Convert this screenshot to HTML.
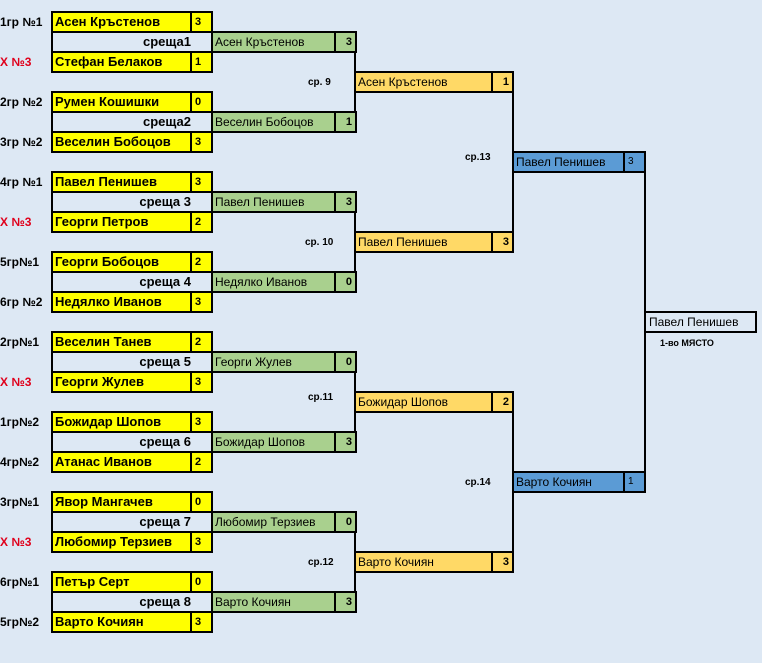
<!DOCTYPE html>
<html><head><meta charset="utf-8"><style>
body{margin:0;width:762px;height:663px;background:#dde8f4;position:relative;overflow:hidden;font-family:"Liberation Sans",Arial,sans-serif;}
.b{position:absolute;box-sizing:border-box;border:2px solid #000;height:22px;}
.b .n{position:absolute;left:2px;top:0;line-height:18px;white-space:nowrap;}
.b .s{position:absolute;right:0;top:0;bottom:0;box-sizing:border-box;border-left:2px solid #000;width:21px;line-height:18px;font-size:11px;}
.y{background:#ffff00;width:162px;font-weight:bold;font-size:13px;}
.y .s{font-weight:bold;padding-left:3px;}
.m{width:162px;font-weight:bold;font-size:13px;}
.m .n{left:auto;right:20px;}
.g{background:#a9d08e;width:146px;font-size:12px;}
.g .s{font-weight:bold;text-align:right;padding-right:3px;}
.o{background:#ffd966;width:160px;font-size:12px;}
.o .s{font-weight:bold;text-align:right;padding-right:3px;}
.bl{background:#5b9bd5;width:134px;font-size:12px;}
.bl .s{padding-left:3px;font-size:10px;}
.v{position:absolute;width:2px;background:#000;}
.l{position:absolute;font-size:12px;font-weight:bold;left:0;white-space:nowrap;}
.r{color:#e0001b;}
.c{position:absolute;font-size:10px;font-weight:bold;}
</style></head><body>

<div class="l" style="top:15px">1гр №1</div>
<div class="l r" style="top:55px">Х №3</div>
<div class="b y" style="left:51px;top:11px"><span class="n">Асен Кръстенов</span><div class="s">3</div></div>
<div class="b m" style="left:51px;top:31px"><span class="n">среща1</span></div>
<div class="b y" style="left:51px;top:51px"><span class="n">Стефан Белаков</span><div class="s">1</div></div>
<div class="b g" style="left:211px;top:31px"><span class="n">Асен Кръстенов</span><div class="s">3</div></div>

<div class="l" style="top:95px">2гр №2</div>
<div class="l" style="top:135px">3гр №2</div>
<div class="b y" style="left:51px;top:91px"><span class="n">Румен Кошишки</span><div class="s">0</div></div>
<div class="b m" style="left:51px;top:111px"><span class="n">среща2</span></div>
<div class="b y" style="left:51px;top:131px"><span class="n">Веселин Бобоцов</span><div class="s">3</div></div>
<div class="b g" style="left:211px;top:111px"><span class="n">Веселин Бобоцов</span><div class="s">1</div></div>

<div class="l" style="top:175px">4гр №1</div>
<div class="l r" style="top:215px">Х №3</div>
<div class="b y" style="left:51px;top:171px"><span class="n">Павел Пенишев</span><div class="s">3</div></div>
<div class="b m" style="left:51px;top:191px"><span class="n">среща 3</span></div>
<div class="b y" style="left:51px;top:211px"><span class="n">Георги Петров</span><div class="s">2</div></div>
<div class="b g" style="left:211px;top:191px"><span class="n">Павел Пенишев</span><div class="s">3</div></div>

<div class="l" style="top:255px">5гр№1</div>
<div class="l" style="top:295px">6гр №2</div>
<div class="b y" style="left:51px;top:251px"><span class="n">Георги Бобоцов</span><div class="s">2</div></div>
<div class="b m" style="left:51px;top:271px"><span class="n">среща 4</span></div>
<div class="b y" style="left:51px;top:291px"><span class="n">Недялко Иванов</span><div class="s">3</div></div>
<div class="b g" style="left:211px;top:271px"><span class="n">Недялко Иванов</span><div class="s">0</div></div>

<div class="l" style="top:335px">2гр№1</div>
<div class="l r" style="top:375px">Х №3</div>
<div class="b y" style="left:51px;top:331px"><span class="n">Веселин Танев</span><div class="s">2</div></div>
<div class="b m" style="left:51px;top:351px"><span class="n">среща 5</span></div>
<div class="b y" style="left:51px;top:371px"><span class="n">Георги Жулев</span><div class="s">3</div></div>
<div class="b g" style="left:211px;top:351px"><span class="n">Георги Жулев</span><div class="s">0</div></div>

<div class="l" style="top:415px">1гр№2</div>
<div class="l" style="top:455px">4гр№2</div>
<div class="b y" style="left:51px;top:411px"><span class="n">Божидар Шопов</span><div class="s">3</div></div>
<div class="b m" style="left:51px;top:431px"><span class="n">среща 6</span></div>
<div class="b y" style="left:51px;top:451px"><span class="n">Атанас Иванов</span><div class="s">2</div></div>
<div class="b g" style="left:211px;top:431px"><span class="n">Божидар Шопов</span><div class="s">3</div></div>

<div class="l" style="top:495px">3гр№1</div>
<div class="l r" style="top:535px">Х №3</div>
<div class="b y" style="left:51px;top:491px"><span class="n">Явор Мангачев</span><div class="s">0</div></div>
<div class="b m" style="left:51px;top:511px"><span class="n">среща 7</span></div>
<div class="b y" style="left:51px;top:531px"><span class="n">Любомир Терзиев</span><div class="s">3</div></div>
<div class="b g" style="left:211px;top:511px"><span class="n">Любомир Терзиев</span><div class="s">0</div></div>

<div class="l" style="top:575px">6гр№1</div>
<div class="l" style="top:615px">5гр№2</div>
<div class="b y" style="left:51px;top:571px"><span class="n">Петър Серт</span><div class="s">0</div></div>
<div class="b m" style="left:51px;top:591px"><span class="n">среща 8</span></div>
<div class="b y" style="left:51px;top:611px"><span class="n">Варто Кочиян</span><div class="s">3</div></div>
<div class="b g" style="left:211px;top:591px"><span class="n">Варто Кочиян</span><div class="s">3</div></div>

<div class="v" style="left:354px;top:52px;height:60px"></div>
<div class="v" style="left:354px;top:212px;height:60px"></div>
<div class="v" style="left:354px;top:372px;height:60px"></div>
<div class="v" style="left:354px;top:532px;height:60px"></div>
<div class="c" style="left:308px;top:77px">ср. 9</div>
<div class="c" style="left:305px;top:237px">ср. 10</div>
<div class="c" style="left:308px;top:392px">ср.11</div>
<div class="c" style="left:308px;top:557px">ср.12</div>

<div class="b o" style="left:354px;top:71px"><span class="n">Асен Кръстенов</span><div class="s">1</div></div>
<div class="b o" style="left:354px;top:231px"><span class="n">Павел Пенишев</span><div class="s">3</div></div>
<div class="b o" style="left:354px;top:391px"><span class="n">Божидар Шопов</span><div class="s">2</div></div>
<div class="b o" style="left:354px;top:551px"><span class="n">Варто Кочиян</span><div class="s">3</div></div>

<div class="v" style="left:512px;top:92px;height:140px"></div>
<div class="v" style="left:512px;top:412px;height:140px"></div>
<div class="c" style="left:465px;top:152px">ср.13</div>
<div class="c" style="left:465px;top:477px">ср.14</div>

<div class="b bl" style="left:512px;top:151px"><span class="n">Павел Пенишев</span><div class="s">3</div></div>
<div class="b bl" style="left:512px;top:471px"><span class="n">Варто Кочиян</span><div class="s">1</div></div>

<div class="v" style="left:644px;top:172px;height:300px"></div>
<div class="b" style="left:644px;top:311px;width:113px;font-size:12px"><span class="n" style="left:3px">Павел Пенишев</span></div>
<div class="c" style="left:660px;top:338px;font-size:9px">1-во МЯСТО</div>
</body></html>
